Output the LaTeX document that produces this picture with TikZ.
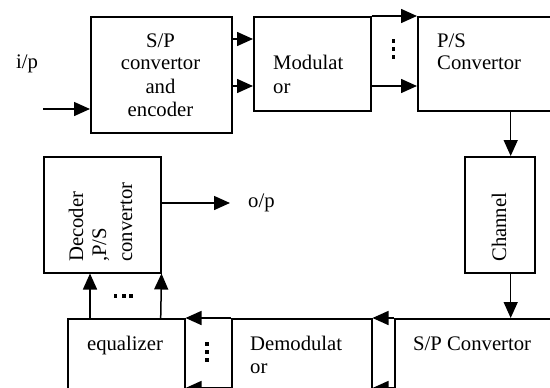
\documentclass[tikz,border=0pt]{standalone}
\usepackage{fontspec}
\setmainfont{Liberation Serif}
\usetikzlibrary{arrows.meta}
\tikzset{
  box/.style={draw, line width=1.5pt, inner sep=0pt, anchor=north west},
  txt/.style={inner sep=0pt, font=\fontsize{20.7}{23}\selectfont},
  conn/.style={line width=1.5pt, -{Triangle[length=16pt,width=14pt]}},
  dotsq/.style={fill=black, inner sep=0pt, minimum width=3.6pt, minimum height=3.6pt}
}
\begin{document}
\begin{tikzpicture}[x=1pt,y=-1pt]
\useasboundingbox (0,0) rectangle (550,388);
% boxes
\node[box, minimum width=141pt, minimum height=116pt] (enc) at (90,16) {};
\node[box, minimum width=117pt, minimum height=94pt] (mod) at (253,16) {};
\node[box, minimum width=160pt, minimum height=94pt] (ps) at (417,16) {};
\node[box, minimum width=70pt, minimum height=116pt] (ch) at (464,156) {};
\node[box, minimum width=160pt, minimum height=100pt] (sp) at (394,318) {};
\node[box, minimum width=140pt, minimum height=100pt] (dem) at (231,318) {};
\node[box, minimum width=117pt, minimum height=100pt] (eq) at (67,318) {};
\node[box, minimum width=117pt, minimum height=116pt] (dec) at (43,156) {};
% texts
\node[txt, anchor=base] (t1) at (160.5,47) {S/P};
\node[txt, anchor=base] (t2) at (160.5,70) {convertor};
\node[txt, anchor=base] (t3) at (160.5,93) {and};
\node[txt, anchor=base] (t4) at (160.5,116) {encoder};
\node[txt, anchor=base west] (m1) at (273,70) {Modulat};
\node[txt, anchor=base west] (m2) at (273,93) {or};
\node[txt, anchor=base west] (p1) at (437,47) {P/S};
\node[txt, anchor=base west] (p2) at (437,70) {Convertor};
\node[txt, anchor=base west, rotate=90] (c1) at (506,262) {Channel};
\node[txt, anchor=base west] (s1) at (413,350) {S/P Convertor};
\node[txt, anchor=base west] (d1) at (250,350) {Demodulat};
\node[txt, anchor=base west] (d2) at (250,373) {or};
\node[txt, anchor=base] (e1) at (125,350) {equalizer};
\node[txt, anchor=base west, rotate=90] (k1) at (83,262) {Decoder};
\node[txt, anchor=base west, rotate=90] (k2) at (106,262) {,P/S};
\node[txt, anchor=base west, rotate=90] (k3) at (132,262) {convertor};
\node[txt, anchor=base west] (ip) at (16,68) {i/p};
\node[txt, anchor=base west] (op) at (248,207) {o/p};
% free ends
\coordinate (in) at (43,109);
\coordinate (out) at (230,203);
% connectors
\draw[conn] (in) -- (enc.west |- in);
\draw[conn] (enc.east |- 0,39) -- (mod.west |- 0,39);
\draw[conn] (enc.east |- 0,86) -- (mod.west |- 0,86);
\draw[conn] (mod.north east) -- (ps.north west);
\draw[conn] (mod.east |- 0,86) -- (ps.west |- 0,86);
\draw[conn] (ps.south -| 510.7,0) -- (ch.north -| 510.7,0);
\draw[conn] (ch.south -| 510.7,0) -- (sp.north -| 510.7,0);
\draw[conn] (sp.north west) -- (dem.north east);
\draw[conn] (sp.west |- 0,388) -- (dem.east |- 0,388);
\draw[conn] (dem.north west) -- (eq.north east);
\draw[conn] (dem.west |- 0,388) -- (eq.east |- 0,388);
\draw[conn] (eq.north -| 90,0) -- (dec.south -| 90,0);
\draw[conn] (eq.north -| 160.7,0) -- (dec.south east);
\draw[conn] (dec.east |- out) -- (out);
% dots
\foreach \yy [count=\i] in {41,49,57} { \node[dotsq] (ta\i) at (393.5,\yy) {}; }
\foreach \yy [count=\i] in {344,352,360} { \node[dotsq, minimum width=4pt] (ba\i) at (207,\yy) {}; }
\foreach \xx [count=\i] in {115.5,124,131} { \node[dotsq, minimum height=4pt] (ha\i) at (\xx,296) {}; }
\end{tikzpicture}
\end{document}
